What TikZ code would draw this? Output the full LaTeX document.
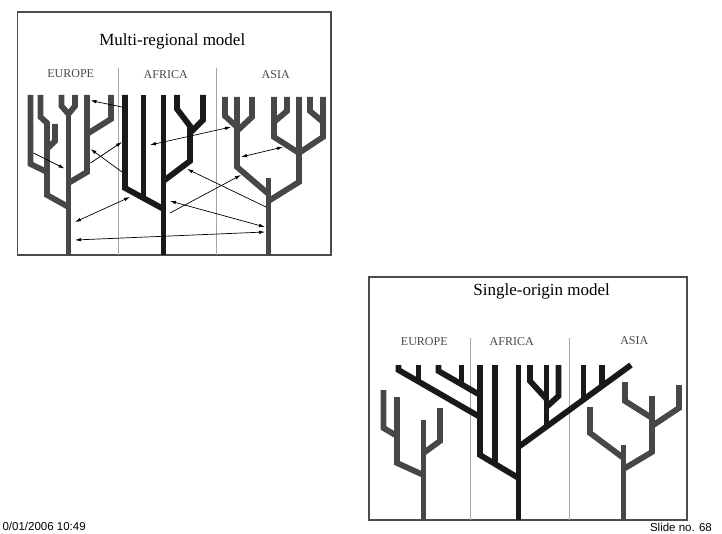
\documentclass[tikz,border=0pt]{standalone}
\usepackage{fontspec}
\newfontfamily\slidefont{Liberation Sans}
\newfontfamily\plotfont{Liberation Serif}
\usetikzlibrary{arrows.meta}

\begin{document}
\begin{tikzpicture}
		[x=1pt, y=-1pt,
		panel/.style={draw=black!70, line width=1.4pt},
		border/.style={draw=black!35, line width=0.8pt},
		limb/.style={line width=5.8pt, black!72},
		alimb/.style={line width=5.8pt, black!90},
		heading/.style={font=\plotfont\fontsize{17}{20}\selectfont},
		region/.style={text=black!72, font=\plotfont\fontsize{12}{14}\selectfont},
		link/.style={line width=0.7pt, >={Latex[length=6pt,width=3.6pt]}},
		footer/.style={anchor=base west, font=\slidefont\fontsize{11.5}{13}\selectfont}]
		\useasboundingbox (0,0) rectangle (722,534);

		% Multi-regional panel
		\draw[panel] (17.5,12) rectangle (331,255);
		\node[heading] (multi) at (172.3,41.7) {Multi-regional model};
		\node[region] (meurope) at (70.7,74) {EUROPE};
		\node[region] (mafrica) at (165.7,75) {AFRICA};
		\node[region] (masia) at (275.7,75) {ASIA};
		\draw[border] (118.3,68) -- (118.3,255);
		\draw[border] (216,68) -- (216,255);

		% Europe tree
		\draw[limb] (68.5,255) -- (68.5,113);
		\draw[limb] (61.5,95) -- (61.5,106) -- (68.5,114) -- (75,106) -- (75,95);
		\draw[limb] (68.5,207) -- (47,195) -- (47,123) -- (40.5,117) -- (40.5,95);
		\draw[limb] (47,149) -- (55,141) -- (55,124);
		\draw[limb] (47,172) -- (30.5,164) -- (30.5,95);
		\draw[limb] (68.5,183) -- (87,172) -- (87,95);
		\draw[limb] (87,134) -- (111,119) -- (111,95);

		% Africa tree
		\draw[alimb] (163.5,255) -- (163.5,95);
		\draw[alimb] (163.5,209) -- (125,188) -- (125,95);
		\draw[alimb] (143.5,198) -- (143.5,95);
		\draw[alimb] (163.5,181) -- (190,161) -- (190,126) -- (177,109) -- (177,95);
		\draw[alimb] (190,133) -- (203,120) -- (203,95);

		% Asia tree
		\draw[limb] (268.5,255) -- (268.5,178);
		\draw[limb] (268.5,194) -- (237,167) -- (237,97);
		\draw[limb] (225,97) -- (225,116) -- (237,127);
		\draw[limb] (252,97) -- (252,117) -- (237,131);
		\draw[limb] (268.5,201) -- (299,182) -- (299,97);
		\draw[limb] (299,153) -- (274,137) -- (274,97);
		\draw[limb] (287,97) -- (287,111) -- (274,122);
		\draw[limb] (299,153) -- (323,137) -- (323,97);
		\draw[limb] (310,97) -- (310,111) -- (323,122);

		% Gene flow between regions
		\draw[link,->] (122,107) -- (90.5,100.5);
		\draw[link,->] (33.5,153) -- (64.5,168.5);
		\draw[link,->] (122,172) -- (90.5,149);
		\draw[link,->] (90.5,163) -- (122,142);
		\draw[link,<->] (150,145) -- (231,127);
		\draw[link,<->] (241,157) -- (283,147);
		\draw[link,->] (266,207) -- (187,169);
		\draw[link,<->] (75,222) -- (130,197);
		\draw[link,->] (170,213) -- (241,175);
		\draw[link,<->] (170,201) -- (265,227);
		\draw[link,<->] (75,240) -- (265,232);

		% Single-origin panel
		\draw[panel] (369,277) rectangle (687,520);
		\node[heading] (single) at (541.7,291.7) {Single-origin model};
		\node[region] (seurope) at (424.3,341.7) {EUROPE};
		\node[region] (safrica) at (511.7,341.7) {AFRICA};
		\node[region] (sasia) at (634.3,340.7) {ASIA};
		\draw[border] (470,338) -- (470,520);
		\draw[border] (569.5,338) -- (569.5,520);

		% Old Europe lineage
		\draw[limb] (423.5,520) -- (423.5,420);
		\draw[limb] (423.5,475) -- (397,463) -- (397,397);
		\draw[limb] (397,436) -- (383.5,428) -- (383.5,390);
		\draw[limb] (423.5,453) -- (440,441) -- (440,408);

		% African tree spreading out
		\draw[alimb] (518.5,520) -- (518.5,365);
		\draw[alimb] (518.5,478) -- (480,455) -- (480,365);
		\draw[alimb] (495,464) -- (495,365);
		\draw[alimb] (398.5,365) -- (398.5,370) -- (480,417);
		\draw[alimb] (418.5,365) -- (418.5,381);
		\draw[alimb] (438.5,365) -- (438.5,371) -- (480,395);
		\draw[alimb] (461.5,365) -- (461.5,385);
		\draw[alimb] (518.5,447) -- (631,365);
		\draw[alimb] (546.5,365) -- (546.5,427);
		\draw[alimb] (530,365) -- (530,381) -- (546.5,399);
		\draw[alimb] (558.5,365) -- (558.5,396) -- (546.5,407);
		\draw[alimb] (583.5,365) -- (583.5,400);
		\draw[alimb] (602,365) -- (602,386);

		% Old Asia lineage
		\draw[limb] (623.5,520) -- (623.5,445);
		\draw[limb] (623.5,458) -- (590,433) -- (590,407);
		\draw[limb] (623.5,469) -- (652,452) -- (652,396);
		\draw[limb] (652,418) -- (625,401) -- (625,382);
		\draw[limb] (652,426) -- (679,408) -- (679,385);

		% Slide footer
		\node[footer] (date) at (-1,530) {0/01/2006 10:49};
		\node[footer] (slide) at (646.5,531) {Slide no. 68};
	\end{tikzpicture}
\end{document}
